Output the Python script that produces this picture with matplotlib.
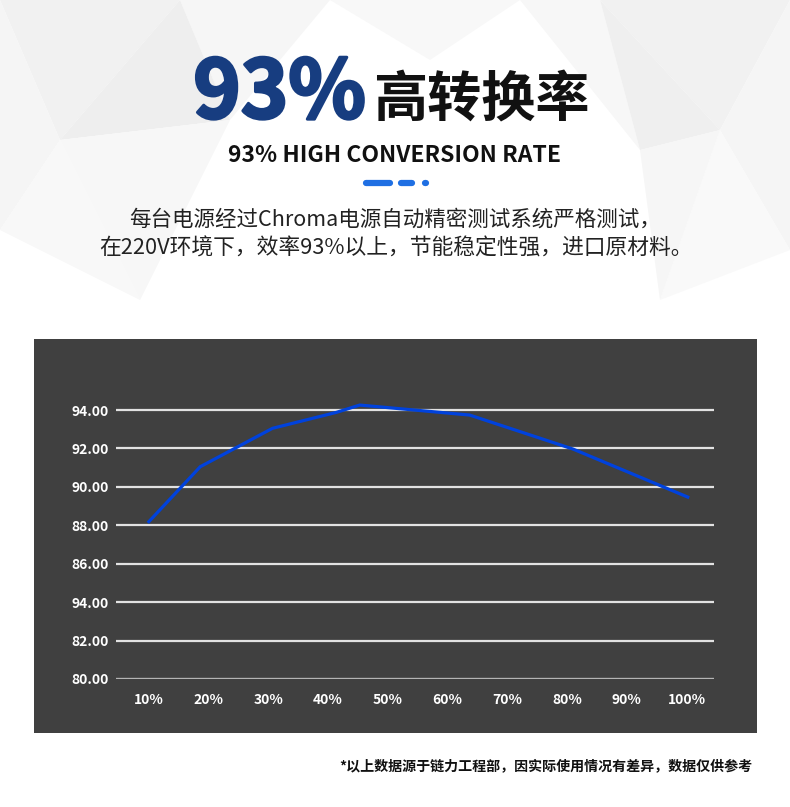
import matplotlib
matplotlib.use('Agg')
import matplotlib.pyplot as plt
from matplotlib.patches import Rectangle, Polygon
import matplotlib.patheffects as pe
import numpy as np

plt.rcParams['font.family'] = ['Noto Sans CJK SC', 'DejaVu Sans']

# data
load = [10, 18.6, 30.7, 41.4, 45.3, 63.7, 81.0, 100.2]
efficiency = [88.19, 91.05, 93.05, 93.88, 94.26, 93.74, 91.97, 89.47]
x_ticks = [10, 20, 30, 40, 50, 60, 70, 80, 90, 100]
x_labels = ['10%', '20%', '30%', '40%', '50%', '60%', '70%', '80%', '90%', '100%']
y_ticks = [80, 82, 84, 86, 88, 90, 92, 94]
y_labels = ['80.00', '82.00', '94.00', '86.00', '88.00', '90.00', '92.00', '94.00']

W, H = 790, 807
fig = plt.figure(figsize=(W / 100, H / 100), dpi=100)
fig.patch.set_facecolor('white')

def fx(px):
  return px / W

def fy(py):
  return 1 - py / H

# faint low-poly background
bg = fig.add_axes([0, 0, 1, 1])
bg.set_xlim(0, W)
bg.set_ylim(H, 0)
bg.axis('off')
shapes = [
  ([(0, 0), (180, 0), (60, 140)], '#f1f1f1'),
  ([(0, 0), (60, 140), (0, 230)], '#f5f5f5'),
  ([(180, 0), (330, 0), (230, 120)], '#f6f6f6'),
  ([(60, 140), (180, 0), (230, 120)], '#eeeeee'),
  ([(0, 230), (60, 140), (140, 300)], '#f8f8f8'),
  ([(60, 140), (230, 120), (140, 300)], '#f7f7f7'),
  ([(600, 0), (790, 0), (720, 130)], '#f1f1f1'),
  ([(790, 0), (790, 250), (720, 130)], '#f5f5f5'),
  ([(520, 0), (600, 0), (640, 150)], '#f7f7f7'),
  ([(600, 0), (720, 130), (640, 150)], '#efefef'),
  ([(720, 130), (790, 250), (660, 300)], '#f9f9f9'),
  ([(640, 150), (720, 130), (660, 300)], '#f6f6f6'),
  ([(330, 0), (520, 0), (430, 60)], '#f8f8f8'),
]
for pts, c in shapes:
  bg.add_patch(Polygon(pts, closed=True, facecolor=c, edgecolor='none'))

# headings
big = fig.text(fx(366), fy(118), '93%', color='#173d80', fontsize=58, fontweight='heavy',
               ha='right', va='baseline')
big.set_path_effects([pe.withStroke(linewidth=2.2, foreground='#173d80')])
fig.text(fx(373), fy(116), '高转换率', color='#111111', fontsize=39, fontweight='bold',
         ha='left', va='baseline')
fig.text(fx(395), fy(155), '93% HIGH CONVERSION RATE', color='#111111', fontsize=16.5,
         fontweight='bold', ha='center', va='center')

# blue dashes
bg.plot([366, 390], [183, 183], color='#1f6fe3', lw=4.5, solid_capstyle='round')
bg.plot([401, 412], [183, 183], color='#1f6fe3', lw=4.5, solid_capstyle='round')
bg.plot([425, 425.5], [183, 183], color='#1f6fe3', lw=4.5, solid_capstyle='round')

fig.text(fx(395), fy(220), '每台电源经过Chroma电源自动精密测试系统严格测试，', color='#222222',
         fontsize=15.5, ha='center', va='center')
fig.text(fx(396), fy(249), '在220V环境下，效率93%以上，节能稳定性强，进口原材料。', color='#222222',
         fontsize=15.7, ha='center', va='center')

# dark panel
bg.add_patch(Rectangle((34, 339), 723, 394, facecolor='#404040', edgecolor='none'))

# chart
y_top = 95.5
ax_top = 679 - (y_top - 80) * 19.21
ax = fig.add_axes([fx(116), fy(679), fx(714) - fx(116), (679 - ax_top) / H])
ax.patch.set_alpha(0)
ax.set_xlim(4.5, 104.6)
ax.set_ylim(80, y_top)
for v in y_ticks:
  if v == 80:
    ax.axhline(v, color='#b4b4b4', lw=2.4, zorder=1)
  else:
    ax.axhline(v, color='#e2e2e2', lw=1.6, zorder=1)
ax.plot(load, efficiency, color='#0042dd', lw=2.3, zorder=3, solid_joinstyle='miter')
ax.set_xticks(x_ticks)
ax.set_xticklabels(x_labels)
ax.set_yticks(y_ticks)
ax.set_yticklabels(y_labels)
ax.tick_params(length=0, colors='white', labelsize=10)
ax.tick_params(axis='x', pad=10)
ax.tick_params(axis='y', pad=5)
for lb in ax.get_xticklabels() + ax.get_yticklabels():
  lb.set_fontweight('bold')
for s in ax.spines.values():
  s.set_visible(False)

fig.text(fx(752), fy(766), '*以上数据源于链力工程部，因实际使用情况有差异，数据仅供参考', color='#111111',
         fontsize=10.1, fontweight='bold', ha='right', va='center')

fig.savefig('out.png', dpi=100, facecolor='white')
